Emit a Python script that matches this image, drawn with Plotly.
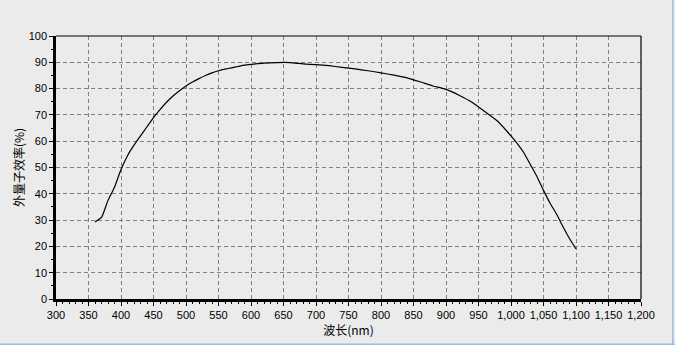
import plotly.graph_objects as go

wavelength = [360, 370, 380, 390, 400, 410, 420, 430, 440, 450, 460, 470, 480, 490,
              500, 510, 520, 530, 540, 550, 560, 570, 580, 590, 600, 620, 640, 660,
              680, 700, 720, 740, 760, 780, 800, 820, 840, 860, 880, 900, 920, 940,
              960, 980, 1000, 1010, 1020, 1030, 1040, 1050, 1060, 1070, 1080, 1090, 1100]
eqe = [29.3, 31.0, 37.5, 42.5, 49.2, 54.5, 58.5, 62.0, 65.5, 69.0, 72.0, 74.8, 77.2, 79.2,
       81.0, 82.5, 83.8, 85.0, 86.0, 86.8, 87.4, 87.9, 88.4, 88.9, 89.2, 89.7, 89.9, 89.9,
       89.4, 89.1, 88.7, 88.1, 87.5, 86.8, 86.0, 85.1, 84.1, 82.6, 81.0, 79.7, 77.5, 74.8,
       71.2, 67.5, 62.0, 59.0, 55.5, 51.0, 46.5, 41.3, 36.5, 32.3, 27.5, 23.0, 19.0]

x_ticks = list(range(300, 1201, 50))
x_labels = [f"{v:,}" for v in x_ticks]
y_ticks = list(range(0, 101, 10))

fig = go.Figure(go.Scatter(x=wavelength, y=eqe, mode="lines", line_shape="spline",
                           line=dict(color="black", width=1.2, smoothing=0.4), hoverinfo="skip"))

font = dict(family="Liberation Sans, Arial, sans-serif", size=11, color="black")
fig.update_layout(
    width=675, height=345,
    margin=dict(l=56, r=34, t=36, b=46),
    paper_bgcolor="#ebebeb", plot_bgcolor="#ebebeb",
    showlegend=False, font=font,
)
grid_dash = "4px,3px"
fig.update_xaxes(
    range=[300, 1200], tickvals=x_ticks, ticktext=x_labels,
    showgrid=True, gridcolor="#808080", griddash=grid_dash, gridwidth=1,
    showline=True, linecolor="black", linewidth=2.5,
    ticks="outside", ticklen=4, tickcolor="black", tickwidth=1,
    minor=dict(dtick=10, ticks="outside", ticklen=2, tickcolor="black", showgrid=False),
    zeroline=False, tickfont=font,
    title=dict(text="波长(nm)", font=dict(family="Noto Sans CJK SC, sans-serif", size=12, color="black"), standoff=4),
)
fig.update_yaxes(
    range=[0, 100], tickvals=y_ticks,
    showgrid=True, gridcolor="#808080", griddash=grid_dash, gridwidth=1,
    showline=True, linecolor="black", linewidth=2.5,
    ticks="outside", ticklen=4, tickcolor="black", tickwidth=1,
    minor=dict(dtick=5, ticks="outside", ticklen=2, tickcolor="black", showgrid=False),
    zeroline=False, tickfont=font,
    title=dict(text="外量子效率(%)", font=dict(family="Noto Sans CJK SC, sans-serif", size=12, color="black"), standoff=2),
)
# thin frame on top and right
fig.add_shape(type="line", xref="paper", yref="paper", x0=0, x1=1, y0=1, y1=1,
              line=dict(color="black", width=1.2))
fig.add_shape(type="line", xref="paper", yref="paper", x0=1, x1=1, y0=0, y1=1,
              line=dict(color="black", width=1.2))
# window border (light blue) at right and bottom
fig.add_shape(type="line", xref="paper", yref="paper", x0=1.0545, x1=1.0545, y0=-0.172, y1=1.14,
              line=dict(color="#9bbbe0", width=1.5))
fig.add_shape(type="line", xref="paper", yref="paper", x0=-0.1, x1=1.06, y0=-0.172, y1=-0.172,
              line=dict(color="#9bbbe0", width=1.5))

fig.write_html("out.html", config={"displayModeBar": False},
               post_script="document.body.style.margin='0';document.body.style.background='#ebebeb';")
